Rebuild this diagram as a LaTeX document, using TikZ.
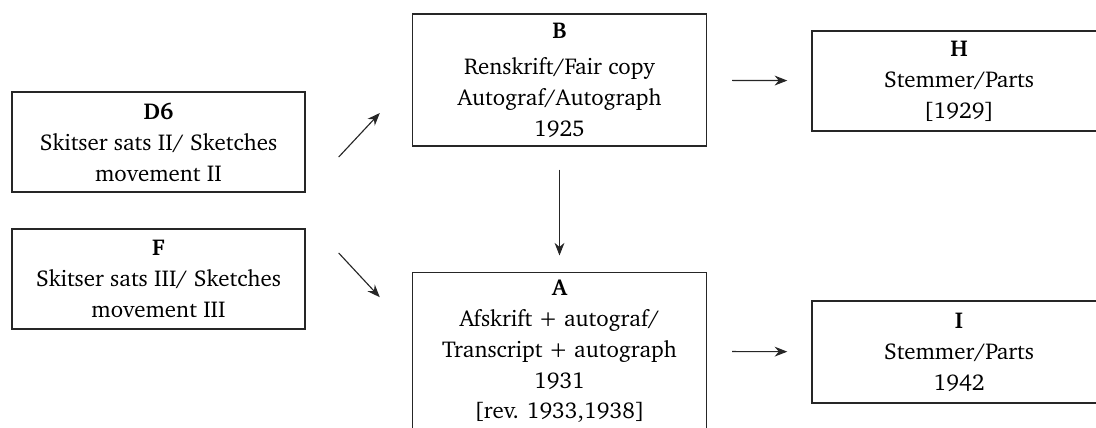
\documentclass[tikz,border=0pt]{standalone}
\usepackage[T1]{fontenc}
\usepackage{charter}
\usepackage{tikz}
\usetikzlibrary{arrows.meta}

\begin{document}
\begin{tikzpicture}[
	box/.style={draw=black!85,line width=1pt,rectangle,align=center,
		font=\fontsize{16.3}{22}\selectfont,minimum width=7.35cm,inner sep=0pt},
	arr/.style={-{Stealth[length=9pt,width=7pt]},line width=0.8pt,black!85}]
	\useasboundingbox (0,0) rectangle (27.4,-10.675);
			\draw (3.9625,-3.55) node [box,minimum width=7.325cm,minimum height=2.5cm] (D6) {\textbf{D6}\\ Skitser sats II/ Sketches\\ movement II};
			\draw (3.9625,-6.975) node [box,minimum width=7.325cm,minimum height=2.5cm] (F) {\textbf{F}\\ Skitser sats III/ Sketches\\ movement III};
			\draw (13.9875,-2.0) node [box,minimum height=3.3cm] (B) {\textbf{B}\\[4pt] Renskrift/Fair copy\\ Autograf/Autograph\\ 1925};
			\draw (13.9875,-8.78) node [box,minimum height=3.95cm] (A) {\textbf{A}\\ Afskrift + autograf/\\ Transcript + autograph\\ 1931\\ {[rev. 1933,1938]}};
			\draw (23.975,-2.025) node [box,minimum height=2.5cm] (H) {\textbf{H}\\ Stemmer/Parts\\ {[1929]}};
			\draw (23.975,-8.8) node [box,minimum height=2.55cm] (I) {\textbf{I}\\ Stemmer/Parts\\ 1942};
			\path[arr]
				([shift={(0.825,-0.375)}]D6.east) edge ([shift={(-0.8,-0.825)}]B.west)
				([shift={(0.825,0.65)}]F.east) edge ([shift={(-0.8,1.35)}]A.west)
				(B) edge [shorten <=0.575cm,shorten >=0.4cm] (A)
					edge [shorten <=0.625cm,shorten >=0.6cm] (H)
				(A) edge [shorten <=0.625cm,shorten >=0.6cm] (I);
		\end{tikzpicture}
\end{document}
